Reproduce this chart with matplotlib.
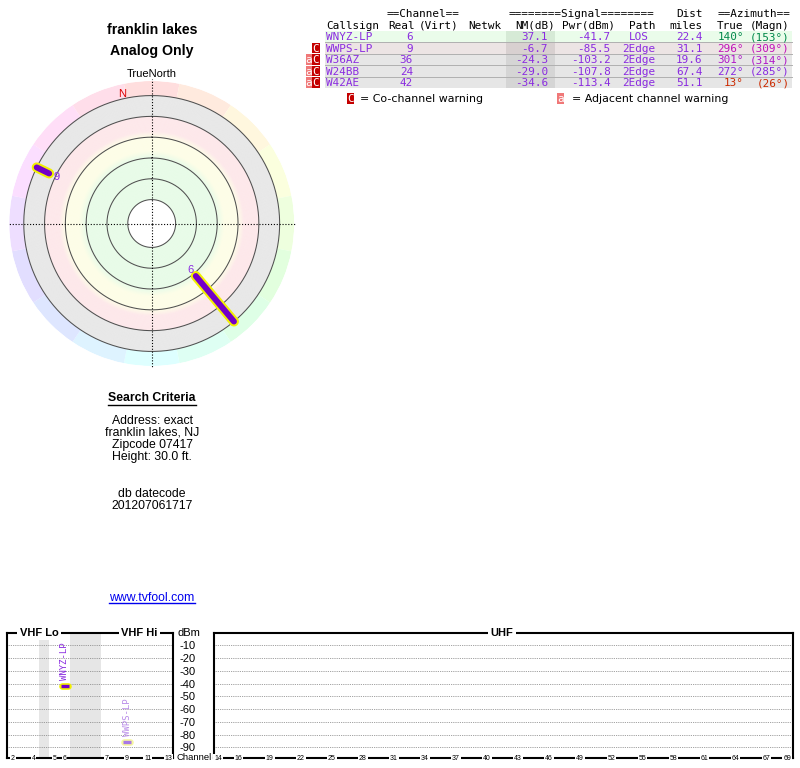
import numpy as np
import matplotlib
matplotlib.use('Agg')
import matplotlib.pyplot as plt
from matplotlib.patches import Rectangle
from matplotlib.colors import hsv_to_rgb, to_rgb
import matplotlib.transforms as mtransforms

# ---------------- data ----------------
location = 'franklin lakes'
subtitle = 'Analog Only'
callsigns = ['WNYZ-LP', 'WWPS-LP', 'W36AZ', 'W24BB', 'W42AE']
real_ch = [6, 9, 36, 24, 42]
nm_db = [37.1, -6.7, -24.3, -29.0, -34.6]
pwr_dbm = [-41.7, -85.5, -103.2, -107.8, -113.4]
paths = ['LOS', '2Edge', '2Edge', '2Edge', '2Edge']
dist_mi = [22.4, 31.1, 19.6, 67.4, 51.1]
az_true = [140, 296, 301, 272, 13]
az_magn = [153, 309, 314, 285, 26]
cochannel = [False, True, True, True, True]
adjacent = [False, False, True, True, True]

criteria_lines = ['Address: exact', 'franklin lakes, NJ', 'Zipcode 07417', 'Height: 30.0 ft.']
datecode_lines = ['db datecode', '201207061717']
site_url = 'www.tvfool.com'

ring_nm = [80, 60, 40, 20, 0, -20]
dbm_ticks = [-10, -20, -30, -40, -50, -60, -70, -80, -90]
vhf_tick_ch = [2, 4, 5, 6, 7, 9, 11, 13]
uhf_tick_ch = [14, 16, 19, 22, 25, 28, 31, 34, 37, 40, 43, 46, 49, 52, 55, 58, 61, 64, 67, 69]

# ---------------- style ----------------
MONO = 'DejaVu Sans Mono'
SANS = 'Liberation Sans'
PURPLE = '#8a2be0'
LINE_PURPLE = '#7300c8'
YELLOW = '#f2f000'
AZ_COLORS = ['#00884a', '#c010b8', '#b018c8', '#8a2ce0', '#cc2a00']

W, H = 800, 768
fig = plt.figure(figsize=(W / 100, H / 100), dpi=100)

def px_axes(x0, y0, x1, y1, **kw):
    return fig.add_axes([x0 / W, 1 - y1 / H, (x1 - x0) / W, (y1 - y0) / H], **kw)

# overlay axes in pixel coordinates
ov = fig.add_axes([0, 0, 1, 1])
ov.set_xlim(0, W)
ov.set_ylim(H, 0)
ov.set_axis_off()
ov.patch.set_alpha(0)

# ---------------- titles ----------------
ov.text(152, 29.5, location, ha='center', va='center', fontsize=10.2, fontweight='bold', family=SANS)
ov.text(152, 51, subtitle, ha='center', va='center', fontsize=10.2, fontweight='bold', family=SANS)
ov.text(152, 74, 'TrueNorth', ha='center', va='center', fontsize=8, family=SANS)

# ---------------- radar (polar) ----------------
CX, CY, RPX = 151.7, 223.5, 142.5
U0 = 103.0          # radial unit where NM = 0
UMAX = 137.0
pax = fig.add_axes([(CX - RPX) / W, 1 - (CY + RPX) / H, 2 * RPX / W, 2 * RPX / H], projection='polar')
pax.set_theta_zero_location('N')
pax.set_theta_direction(-1)
pax.set_ylim(0, UMAX)
pax.set_axis_off()
pax.patch.set_alpha(0)

u_outer = U0 - ring_nm[-1]
u_inner = U0 - ring_nm[0]
white = np.array(to_rgb('#ffffff'))
green = np.array(to_rgb('#e3fbe3'))
yellow = np.array(to_rgb('#fdfde2'))
pink = np.array(to_rgb('#fde3e6'))
gray = np.array(to_rgb('#e3e3e3'))
stops_u = [0, u_inner, u_inner + 0.01, 63, 70, 83, 89, U0, U0 + 0.01, u_outer]
stops_c = [white, white, green, green, yellow, yellow, pink, pink, gray, gray]
edges = np.arange(0, u_outer + 0.01, 0.5)
mids = (edges[:-1] + edges[1:]) / 2
cols = np.stack([np.interp(mids, stops_u, [c[k] for c in stops_c]) for k in range(3)], axis=1)
pax.bar(0, 0.55, width=2 * np.pi, bottom=edges[:-1], color=cols, align='edge', linewidth=0)

nsec = 16
sec_deg = np.arange(nsec) * 360 / nsec
hue_cols = [hsv_to_rgb((d / 360.0, 0.13, 1.0)) for d in sec_deg]
pax.bar(np.deg2rad(sec_deg), UMAX - u_outer, width=2 * np.pi / nsec, bottom=u_outer,
        color=hue_cols, align='center', linewidth=0)

th = np.linspace(0, 2 * np.pi, 400)
for nm in ring_nm:
    pax.plot(th, np.full_like(th, U0 - nm), color='#505050', lw=0.75)

for ang in [0, np.pi / 2, np.pi, 3 * np.pi / 2]:
    pax.plot([ang, ang], [0, UMAX + 1.5], color='black', lw=0.8, ls=(0, (1, 1.6)), clip_on=False)

decl = az_magn[0] - az_true[0]
pax.text(np.deg2rad(-decl), 127.5, 'N', color='#dd0000', fontsize=8, family=SANS, ha='center', va='center')

for i in range(len(callsigns)):
    u_in = U0 - nm_db[i]
    if u_in < u_outer:
        t = np.deg2rad(az_true[i])
        pax.plot([t, t], [u_in, u_outer], color=YELLOW, lw=7.2, solid_capstyle='round', zorder=5)
        pax.plot([t, t], [u_in, u_outer], color=LINE_PURPLE, lw=4.3, solid_capstyle='round', zorder=6)
        pax.text(t, u_in - 7.5, str(real_ch[i]), color=PURPLE, fontsize=8, family=SANS,
                 ha='center', va='center', zorder=7)

# ---------------- search criteria ----------------
sc = ov.text(152, 398, 'Search Criteria', ha='center', va='center', fontsize=8.8, fontweight='bold', family=SANS)
ys = [420.5, 432.7, 445, 456.8]
for y, s in zip(ys, criteria_lines):
    ov.text(152, y, s, ha='center', va='center', fontsize=8.8, family=SANS)
for y, s in zip([494.3, 506], datecode_lines):
    ov.text(152, y, s, ha='center', va='center', fontsize=8.8, family=SANS)
url = ov.text(152, 598, site_url, ha='center', va='center', fontsize=8.8, family=SANS, color='#0000ee')

# ---------------- table ----------------
TX = 326
ov.text(423, 14, '==Channel==', ha='center', va='center', fontsize=7.9, family=MONO)
ov.text(509, 14, '========Signal========', ha='left', va='center', fontsize=7.9, family=MONO)
ov.text(703, 14, 'Dist', ha='right', va='center', fontsize=7.9, family=MONO)
ov.text(790, 14, '==Azimuth==', ha='right', va='center', fontsize=7.9, family=MONO)
hy = 29
for x, s, ha in [(TX, 'Callsign', 'left'), (415, 'Real', 'right'), (419, '(Virt)', 'left'),
                 (468, 'Netwk', 'left'), (555, 'NM(dB)', 'right'), (615, 'Pwr(dBm)', 'right'),
                 (655, 'Path', 'right'), (703, 'miles', 'right'), (743.5, 'True', 'right'),
                 (790, '(Magn)', 'right')]:
    ov.text(x, hy, s, ha=ha, va='baseline', fontsize=7.9, family=MONO)

top0, rh = 30.7, 11.5
for i in range(len(callsigns)):
    y0 = top0 + i * rh
    if nm_db[i] > 0:
        bg, nmbg = '#eafcea', '#d6ead6'
    elif nm_db[i] > -20:
        bg, nmbg = '#ece4e4', '#d8d0d0'
    else:
        bg, nmbg = '#e6e6e6', '#d5d5d5'
    ov.add_patch(Rectangle((TX - 1, y0), 792 - TX + 1, rh, facecolor=bg, edgecolor='none'))
    ov.add_patch(Rectangle((506, y0), 49, rh, facecolor=nmbg, edgecolor='none'))
    if i > 0:
        ov.plot([TX - 1, 792], [y0, y0], color='#b0b0b0', lw=0.7)
    yb = y0 + rh / 2 + 4
    ov.text(TX, yb, callsigns[i], ha='left', va='baseline', fontsize=7.9, family=MONO, color=PURPLE)
    ov.text(413, yb, str(real_ch[i]), ha='right', va='baseline', fontsize=7.9, family=MONO, color=PURPLE)
    ov.text(548, yb, f'{nm_db[i]:.1f}', ha='right', va='baseline', fontsize=7.9, family=MONO, color=PURPLE)
    ov.text(610.5, yb, f'{pwr_dbm[i]:.1f}', ha='right', va='baseline', fontsize=7.9, family=MONO, color=PURPLE)
    ov.text(638.5, yb, paths[i], ha='center', va='baseline', fontsize=7.9, family=MONO, color=PURPLE)
    ov.text(702.5, yb, f'{dist_mi[i]:.1f}', ha='right', va='baseline', fontsize=7.9, family=MONO, color=PURPLE)
    ov.text(744, yb, f'{az_true[i]}°', ha='right', va='baseline', fontsize=7.9, family=MONO, color=AZ_COLORS[i])
    ov.text(789.5, yb, f'({az_magn[i]}°)', ha='right', va='baseline', fontsize=7.9, family=MONO, color=AZ_COLORS[i])
    if cochannel[i]:
        ov.add_patch(Rectangle((312, y0 + 0.5), 7.5, rh - 1, facecolor='#c40000', edgecolor='none'))
        ov.text(315.75, yb, 'C', ha='center', va='baseline', fontsize=7.9, family=MONO, color='white')
    if adjacent[i]:
        ov.add_patch(Rectangle((305.5, y0 + 0.5), 6.5, rh - 1, facecolor='#f07878', edgecolor='none'))
        ov.text(308.75, yb, 'a', ha='center', va='baseline', fontsize=7.9, family=MONO, color='white')

# legend
ov.add_patch(Rectangle((347, 93), 6.5, 11, facecolor='#c40000', edgecolor='none'))
ov.text(350.25, 102.5, 'C', ha='center', va='baseline', fontsize=7.9, family=MONO, color='white')
ov.text(360, 98.5, '= Co-channel warning', ha='left', va='center', fontsize=7.9, family='DejaVu Sans')
ov.add_patch(Rectangle((557, 93), 6.5, 11, facecolor='#f07878', edgecolor='none'))
ov.text(560.25, 102.5, 'a', ha='center', va='baseline', fontsize=7.9, family=MONO, color='white')
ov.text(572, 98.5, '= Adjacent channel warning', ha='left', va='center', fontsize=7.9, family='DejaVu Sans')

# ---------------- bottom spectrum panels ----------------
YTOP, YBOT = 632.7, 758.0
DB_PER_PX = 10 / 12.73
YMIN = -(YBOT - YTOP) * DB_PER_PX

vhf_slot = {2: 0, 3: 1, 4: 2, 5: 4, 6: 5, 7: 9, 8: 10, 9: 11, 10: 12, 11: 13, 12: 14, 13: 15}
SLOT_PX, SLOT0_PX = 10.4, 12.7
UHF_PX, UHF0_PX = 10.35, 218.0

vax = px_axes(7, YTOP, 173, YBOT)
vax.set_xlim((7 - SLOT0_PX) / SLOT_PX, (173 - SLOT0_PX) / SLOT_PX)
uax = px_axes(214, YTOP, 793, YBOT)
uax.set_xlim(14 + (214 - UHF0_PX) / UHF_PX, 14 + (793 - UHF0_PX) / UHF_PX)

for a in (vax, uax):
    a.set_ylim(YMIN, 0)
    for sp in a.spines.values():
        sp.set_linewidth(1.5)
        sp.set_color('black')
    for v in dbm_ticks:
        a.axhline(v, color='#808080', lw=0.6, ls=(0, (1, 1.2)), zorder=1)
    a.set_xticks([])
    a.tick_params(axis='y', length=0)

vax.set_yticks([])
uax.set_yticks(dbm_ticks)
uax.set_yticklabels([str(v) for v in dbm_ticks], fontsize=8, family=SANS)
uax.tick_params(axis='y', pad=13.5)
uax.text((200 - 214) / 579, 1.0, 'dBm', transform=uax.transAxes, ha='right', va='center', fontsize=8, family=SANS)
uax.text((194 - 214) / 579, 0.0, 'Channel', transform=uax.transAxes, ha='center', va='center', fontsize=6.8, family=SANS)

vax.axvspan(2.5, 3.5, color='#e6e6e6', lw=0, zorder=0.5)
vax.axvspan(5.5, 8.45, color='#e6e6e6', lw=0, zorder=0.5)

def band_title(a, xf, s):
    a.text(xf, 1.0, s, transform=a.transAxes, ha='center', va='center', fontsize=8, fontweight='bold',
           family=SANS, bbox=dict(facecolor='white', edgecolor='none', pad=1.8), clip_on=False, zorder=10)

band_title(vax, (39 - 7) / 166, 'VHF Lo')
band_title(vax, (139.5 - 7) / 166, 'VHF Hi')
band_title(uax, (502 - 214) / 579, 'UHF')

def bottom_labels(a, xs, labels):
    tr = mtransforms.blended_transform_factory(a.transData, a.transAxes)
    for x, s in zip(xs, labels):
        a.text(x, 0.0, s, transform=tr, ha='center', va='center', fontsize=5, family=SANS,
               bbox=dict(facecolor='white', edgecolor='none', pad=0.6), clip_on=False, zorder=10)

bottom_labels(vax, [vhf_slot[c] for c in vhf_tick_ch], [str(c) for c in vhf_tick_ch])
bottom_labels(uax, uhf_tick_ch, [str(c) for c in uhf_tick_ch])

for i in range(len(callsigns)):
    ch = real_ch[i]
    if pwr_dbm[i] <= YMIN:
        continue
    if ch in vhf_slot:
        a, x, unit = vax, vhf_slot[ch], SLOT_PX
    else:
        a, x, unit = uax, ch, UHF_PX
    strong = nm_db[i] > 0
    fc = LINE_PURPLE if strong else '#a878e6'
    oc = YELLOW if strong else '#f6f6a0'
    tc = PURPLE if strong else '#b88ae8'
    a.plot([x - 3 / unit, x + 3 / unit], [pwr_dbm[i]] * 2, color=oc, lw=4.8, solid_capstyle='round', zorder=5)
    a.plot([x - 4 / unit, x + 4 / unit], [pwr_dbm[i]] * 2, color=fc, lw=2.4, solid_capstyle='butt', zorder=6)
    a.text(x, pwr_dbm[i] + 4.5, callsigns[i], rotation=90, ha='center', va='bottom', fontsize=6.5,
           family=MONO, color=tc, zorder=7)

# underlines for the search-criteria heading and url
fig.canvas.draw()
r = fig.canvas.get_renderer()
inv = ov.transData.inverted()
for t, dy, c in [(sc, 6.5, 'black'), (url, 5.0, '#0000ee')]:
    bb = t.get_window_extent(r)
    (x0, _), (x1, _) = inv.transform([[bb.x0, bb.y0], [bb.x1, bb.y1]])
    y = t.get_position()[1] + dy
    ov.plot([x0, x1], [y, y], color=c, lw=1.0)

fig.savefig('out.png', dpi=100)
